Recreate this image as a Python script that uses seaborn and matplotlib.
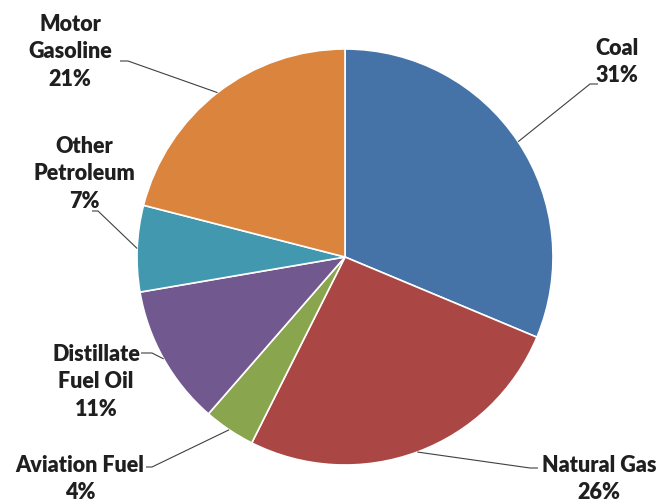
import numpy as np
import seaborn as sns
import matplotlib.pyplot as plt

# Share of energy consumption by fuel (percent), clockwise from 12 o'clock
fuels = ["Coal", "Natural Gas", "Aviation Fuel", "Distillate\nFuel Oil",
         "Other\nPetroleum", "Motor\nGasoline"]
shares = [31.3, 26.1, 4.0, 10.9, 6.7, 21.0]
pct_labels = ["31%", "26%", "4%", "11%", "7%", "21%"]
colors = ["#4572A7", "#AA4643", "#89A54E", "#71588F", "#4198AF", "#DB843D"]

sns.set_theme(style="white")
plt.rcParams["font.family"] = ["Lato", "DejaVu Sans"]

W, H = 660, 504
CX, CY, R = 345, H - 257, 208

fig = plt.figure(figsize=(6.6, 5.04), dpi=100)
ax = fig.add_axes([0, 0, 1, 1])

ax.pie(shares, colors=colors, startangle=90, counterclock=False,
       center=(CX, CY), radius=R,
       wedgeprops={"edgecolor": "white", "linewidth": 1.2})
ax.set_xlim(0, W)
ax.set_ylim(0, H)
ax.set_aspect("equal")
ax.axis("off")

# label block centre (x, y from top) and leader line anchor near the text
label_pos = [(617, 62), (599, 479), (80, 479), (96, 382), (84, 174), (70, 52)]
anchors = [[(598, 84), (590, 84)],
           [(538, 468), (530, 468)],
           [(146, 467), (152, 467)],
           [(141, 353), (152, 353)],
           [(92, 211), (98, 211)],
           [(120, 61), (128, 61)]]

cum = np.cumsum(shares) - np.array(shares) / 2
total = sum(shares)
for name, pct, (lx, ly), anc, mid in zip(fuels, pct_labels, label_pos, anchors, cum):
    ang = np.deg2rad(90 - mid / total * 360)
    ex, ey = CX + R * np.cos(ang), CY + R * np.sin(ang)
    xs = [p[0] for p in anc] + [ex]
    ys = [H - p[1] for p in anc] + [ey]
    ax.plot(xs, ys, color="#404040", lw=0.8, solid_capstyle="butt")
    ax.text(lx, H - ly, f"{name}\n{pct}", ha="center", va="center",
            fontsize=15.5, fontweight="heavy", color="#1f1f1f", linespacing=1.38)

fig.savefig("out.png", dpi=100)
